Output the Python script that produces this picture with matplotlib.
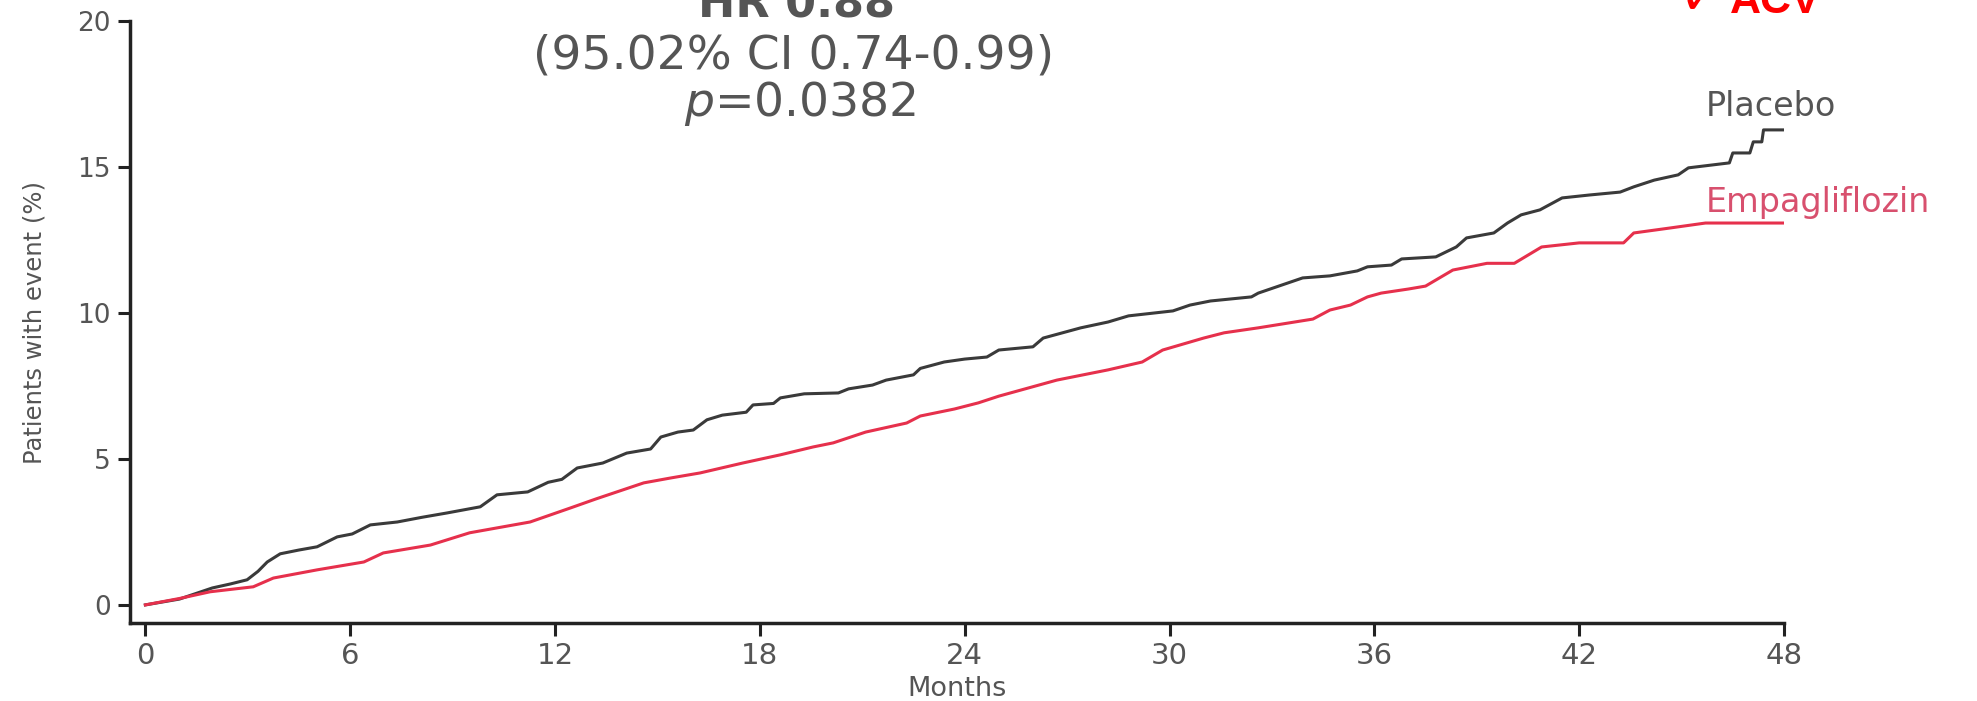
import matplotlib
matplotlib.use("Agg")
import matplotlib.pyplot as plt

# Cumulative event curves
placebo_months = [0, 1.0, 1.96, 2.5, 2.98, 3.3, 3.57, 3.95, 4.5, 5.03, 5.62, 6.06, 6.59, 7.38,
                  8.1, 8.84, 9.81, 10.3, 11.2, 11.8, 12.2, 12.65, 13.4, 14.1, 14.8, 15.1, 15.6,
                  16.05, 16.45, 16.9, 17.6, 17.8, 18.4, 18.6, 19.3, 20.3, 20.6, 21.3, 21.7, 22.5,
                  22.7, 23.4, 24.0, 24.65, 25.0, 26.0, 26.3, 27.4, 28.2, 28.8, 30.1, 30.6, 31.2,
                  32.4, 32.6, 33.3, 33.9, 34.7, 35.5, 35.8, 36.5, 36.8, 37.8, 38.4, 38.7, 39.5,
                  39.9, 40.3, 40.85, 41.5, 42.3, 43.2, 43.6, 44.2, 44.9, 45.2, 46.4, 46.5, 47.0,
                  47.1, 47.35, 47.4, 48.0]
placebo_pct = [0, 0.2, 0.58, 0.72, 0.86, 1.15, 1.47, 1.75, 1.88, 1.99, 2.33, 2.43, 2.74, 2.84,
               3.0, 3.15, 3.36, 3.77, 3.87, 4.2, 4.3, 4.69, 4.86, 5.2, 5.34, 5.75, 5.92,
               5.99, 6.34, 6.5, 6.6, 6.85, 6.9, 7.09, 7.23, 7.26, 7.4, 7.53, 7.7, 7.88,
               8.1, 8.32, 8.42, 8.49, 8.73, 8.84, 9.14, 9.49, 9.69, 9.9, 10.07, 10.27, 10.41,
               10.55, 10.68, 10.96, 11.2, 11.27, 11.44, 11.58, 11.64, 11.85, 11.92, 12.26, 12.57, 12.74,
               13.08, 13.36, 13.53, 13.94, 14.04, 14.14, 14.32, 14.55, 14.73, 14.97, 15.14, 15.48, 15.48,
               15.86, 15.86, 16.27, 16.27]

empa_months = [0, 1.0, 1.9, 3.16, 3.75, 5.03, 6.4, 6.97, 8.35, 9.5, 11.27, 12.45, 13.2, 14.6,
               15.4, 16.25, 17.5, 18.6, 19.56, 20.15, 21.1, 22.3, 22.7, 23.7, 24.4, 25.0, 26.7,
               28.2, 29.2, 29.8, 31.0, 31.6, 32.6, 34.2, 34.7, 35.3, 35.8, 36.2, 37.0, 37.5,
               38.3, 39.3, 40.1, 40.9, 42.0, 43.3, 43.6, 44.6, 45.7, 48.0]
empa_pct = [0, 0.22, 0.45, 0.62, 0.92, 1.2, 1.47, 1.78, 2.05, 2.47, 2.84, 3.32, 3.63, 4.18,
            4.35, 4.52, 4.86, 5.14, 5.41, 5.55, 5.92, 6.23, 6.47, 6.71, 6.92, 7.15, 7.7,
            8.05, 8.32, 8.73, 9.14, 9.32, 9.49, 9.79, 10.1, 10.27, 10.55, 10.68, 10.82, 10.92,
            11.47, 11.7, 11.7, 12.26, 12.4, 12.4, 12.74, 12.9, 13.08, 13.08]

x_ticks = [0, 6, 12, 18, 24, 30, 36, 42, 48]
y_ticks = [0, 5, 10, 15, 20]

W, H = 1977, 701
fig = plt.figure(figsize=(W / 100, H / 100), dpi=100)
ax = fig.add_axes([130 / W, 1 - 623 / H, (1784 - 130) / W, (623 - 21) / H])

ax.plot(placebo_months, placebo_pct, color="#3a3a3a", lw=2.2)
ax.plot(empa_months, empa_pct, color="#e6304c", lw=2.2)

ax.set_xlim(-0.45, 48)
ax.set_ylim(-0.62, 20)
ax.set_xticks(x_ticks)
ax.set_yticks(y_ticks)
for s in ["top", "right"]:
    ax.spines[s].set_visible(False)
for s in ["left", "bottom"]:
    ax.spines[s].set_linewidth(2.5)
    ax.spines[s].set_color("#222222")
ax.tick_params(direction="out", length=9, width=2.2, color="#222222",
               labelcolor="#555555", pad=5)
ax.tick_params(axis="y", labelsize=19)
ax.tick_params(axis="x", labelsize=21)

ax.set_xlabel("Months", fontsize=19.5, color="#555555", labelpad=4)
ax.set_ylabel("Patients with event (%)", fontsize=17.5, color="#555555", labelpad=22)

# curve labels
ax.text(1706 / W, 1 - 107 / H, "Placebo", transform=fig.transFigure, fontsize=24,
        color="#555555", va="center", ha="left")
ax.text(1706 / W, 1 - 203 / H, "Empagliflozin", transform=fig.transFigure, fontsize=24,
        color="#d8506e", va="center", ha="left")

# hazard ratio annotation
fig.text(797 / W, 1 - 17 / H, "HR 0.88", fontsize=32, fontweight="bold", color="#555555",
         ha="center", va="baseline")
fig.text(794 / W, 1 - 56 / H, "(95.02% CI 0.74-0.99)", fontsize=34, color="#555555",
         ha="center", va="center")
fig.text(800 / W, 1 - 103 / H, r"$\mathit{p}$=0.0382", fontsize=34, color="#555555",
         ha="center", va="center")

# red tag at top right
fig.text(1730 / W, 1 - 13 / H, "ACV", fontsize=31, fontweight="bold", color="#ff0000",
         ha="left", va="baseline", family="Liberation Sans")
fig.text(1721 / W, 1 - 14 / H, "✓", fontsize=36, fontweight="bold", color="#ff0000",
         ha="right", va="baseline")

fig.savefig("out.png", dpi=100, facecolor="white")
